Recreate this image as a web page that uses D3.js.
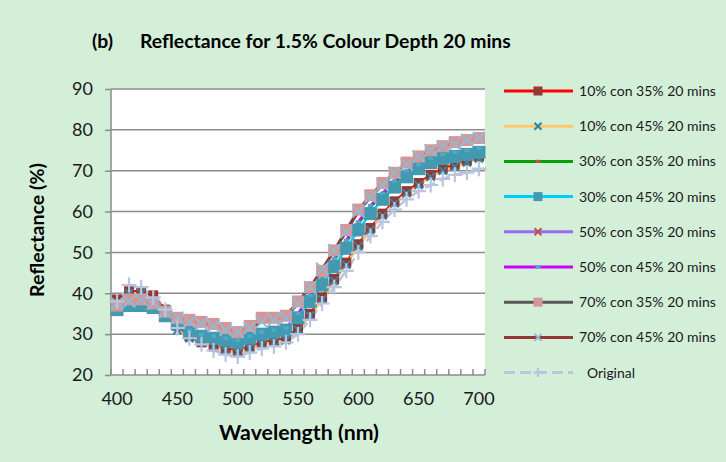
<!DOCTYPE html>
<html>
<head>
<meta charset="utf-8">
<script src="https://cdn.jsdelivr.net/npm/d3@7"></script>
<style>
  body { margin: 0; background: #d3efd8; }
  svg { display: block; font-family: Lato, "Open Sans", sans-serif; }
</style>
</head>
<body>
<div id="chart"></div>
<script>
// wavelengths (nm) - category axis
var wavelengths = [400, 410, 420, 430, 440, 450, 460, 470, 480, 490, 500, 510, 520, 530, 540, 550,
  560, 570, 580, 590, 600, 610, 620, 630, 640, 650, 660, 670, 680, 690, 700];
var xLabels = [400, 450, 500, 550, 600, 650, 700];
var yTicks = [20, 30, 40, 50, 60, 70, 80, 90];

var names = ["10% con 35% 20 mins", "10% con 45% 20 mins", "30% con 35% 20 mins", "30% con 45% 20 mins",
  "50% con 35% 20 mins", "50% con 45% 20 mins", "70% con 35% 20 mins", "70% con 45% 20 mins", "Original"];

// reflectance (%)
var con10_35 = [38.5, 40.5, 40.5, 39.5, 36, 32, 29.5, 28, 27, 26.5, 26, 27, 28, 28.5, 29, 31.5, 35, 39, 43.5, 47.5, 52, 56, 59.5, 62.5, 65, 67, 69, 70.5, 71.5, 72.5, 73.5];
var con10_45 = [37, 40, 40, 38, 35, 31, 29, 28, 27, 26, 25.5, 26.5, 27.5, 28, 28.5, 31, 34.5, 38.5, 43, 47, 51.5, 55.5, 59, 62, 64.5, 66.5, 68.5, 70, 71, 72, 73];
var con30_35 = [36, 37, 37.5, 36.5, 34.5, 32.5, 30.5, 29.5, 29, 28.5, 28, 29, 30, 30.5, 31, 34.5, 39, 43.5, 48, 52.5, 57, 61, 64, 67, 69.5, 71, 72.5, 73.5, 74, 74.5, 75];
var con30_45 = [36, 37, 37, 36.5, 34.5, 32.5, 30.5, 29.5, 29, 28.5, 28, 29, 30, 30.5, 31, 34, 38, 42, 46.5, 51, 55.5, 59.5, 63, 66, 68.5, 70.5, 72, 73, 73.5, 74, 74.5];
var con50_35 = [37, 38.5, 38.5, 37.5, 35.5, 34, 33.5, 33, 32.5, 31.5, 30.5, 32, 33.5, 34, 34.5, 38, 41.5, 45.5, 50.5, 55.5, 60, 63.5, 66.5, 69.5, 72, 73.5, 74.5, 75.5, 76.5, 77, 77.5];
var con50_45 = [36.5, 37.5, 37.5, 37, 35, 33, 31, 30, 29.5, 29, 28.5, 29.5, 30.5, 31, 31.5, 35, 39.5, 44, 48.5, 53, 57.5, 61.5, 64.5, 67.5, 70, 71.5, 73, 74, 74.5, 75, 75.5];
var con70_35 = [37, 38.5, 38.5, 37.5, 35.5, 34, 33.5, 33, 32.5, 31.5, 30.5, 32, 34, 34, 34.5, 38, 41.5, 45.5, 50.5, 55.5, 60.5, 64, 67, 69.5, 72, 73.5, 75, 76, 77, 77.5, 78];
var con70_45 = [37.5, 38, 38.5, 37.5, 35.5, 34, 33, 32.5, 32, 31, 30.5, 31.5, 33, 33.5, 34, 37.5, 41.5, 46, 50.5, 55, 60, 63.5, 66.5, 69.5, 71.5, 73.5, 75, 76, 76.5, 77.5, 78];
var original = [38, 42, 41.5, 39, 36, 31.5, 29, 27.5, 26, 25, 24.5, 25.5, 26.5, 27, 28, 30, 33.5, 37.5, 41.5, 45.5, 50, 54, 57.5, 60.5, 63, 65, 66.5, 68, 69, 69.5, 70.5];

var seriesValues = [con10_35, con10_45, con30_35, con30_45, con50_35, con50_45, con70_35, con70_45, original];

// look of each series: line colour, marker kind, marker colour, marker size (plot / legend)
var styles = [
  { line: "#ff0000", mark: "square", fill: "#953735", size: 10, lsize: 9 },
  { line: "#ffc76e", mark: "x", fill: "#31859c", size: 8, lsize: 7 },
  { line: "#00a000", mark: "bar", fill: "#c0504d", size: 5, lsize: 5 },
  { line: "#00ccff", mark: "square", fill: "#4399b0", size: 13, lsize: 9 },
  { line: "#9a6af0", mark: "x", fill: "#c0504d", size: 7, lsize: 7 },
  { line: "#cc00ff", mark: "bar", fill: "#4bacc6", size: 5, lsize: 5 },
  { line: "#595959", mark: "square", fill: "#d79694", size: 12, lsize: 9 },
  { line: "#943634", mark: "x", fill: "#93b8d3", size: 12, lsize: 7 },
  { line: "#b9c4df", mark: "plus", fill: "#b9c4df", size: 15, lsize: 9, dash: "11,5" }
];

var W = 726, H = 462;
var plot = { left: 111, right: 485, top: 89, bottom: 375 };

var svg = d3.select("#chart").append("svg")
  .attr("width", W)
  .attr("height", H);

svg.append("rect").attr("width", W).attr("height", H).attr("fill", "#d3efd8");
svg.append("rect")
  .attr("x", plot.left).attr("y", plot.top)
  .attr("width", plot.right - plot.left).attr("height", plot.bottom - plot.top)
  .attr("fill", "#ffffff");

var x = d3.scaleBand().domain(wavelengths).range([plot.left, plot.right]).padding(0);
var y = d3.scaleLinear().domain([20, 90]).range([plot.bottom, plot.top]);
var cx = function (d) { return x(d) + x.bandwidth() / 2; };

// y axis ticks and labels
var yAxis = svg.append("g")
  .attr("transform", "translate(" + plot.left + ",0)")
  .call(d3.axisLeft(y).tickValues(yTicks).tickSize(6).tickPadding(12));
yAxis.select(".domain").remove();
yAxis.selectAll(".tick line").attr("stroke", "#8c8c8c").attr("stroke-width", 1.5);
yAxis.selectAll(".tick text").attr("fill", "#1a1a1a").style("font-size", "18px").style("font-family", "Lato, sans-serif");

// gridlines
svg.append("g").selectAll("line")
  .data(yTicks.slice(1))
  .enter().append("line")
  .attr("x1", plot.left).attr("x2", plot.right)
  .attr("y1", function (d) { return y(d); }).attr("y2", function (d) { return y(d); })
  .attr("stroke", "#8c8c8c").attr("stroke-width", 1.5);

// x axis: labels on every 5th category, ticks between categories
var xAxis = svg.append("g")
  .attr("transform", "translate(0," + plot.bottom + ")")
  .call(d3.axisBottom(x).tickValues(xLabels).tickSize(0).tickPadding(17));
xAxis.select(".domain").remove();
xAxis.selectAll(".tick text").attr("fill", "#1a1a1a").style("font-size", "18px").style("font-family", "Lato, sans-serif");

var bounds = wavelengths.map(function (d) { return x(d); }).concat([plot.right]);
svg.append("g").selectAll("line")
  .data(bounds)
  .enter().append("line")
  .attr("x1", function (d) { return d; }).attr("x2", function (d) { return d; })
  .attr("y1", plot.bottom).attr("y2", plot.bottom - 6)
  .attr("stroke", "#8c8c8c").attr("stroke-width", 1.5);

svg.append("line")
  .attr("x1", plot.left).attr("x2", plot.right)
  .attr("y1", plot.bottom).attr("y2", plot.bottom)
  .attr("stroke", "#8c8c8c").attr("stroke-width", 1.5);
svg.append("line")
  .attr("x1", plot.left).attr("x2", plot.left)
  .attr("y1", plot.top).attr("y2", plot.bottom)
  .attr("stroke", "#8c8c8c").attr("stroke-width", 1.5);

// marker drawing
function drawMarker(g, st, size) {
  var h = size / 2;
  if (st.mark === "square") {
    g.append("rect").attr("x", -h).attr("y", -h).attr("width", size).attr("height", size)
      .attr("fill", st.fill);
  } else if (st.mark === "bar") {
    g.append("rect").attr("x", -h).attr("y", -1.6).attr("width", size).attr("height", 3.2)
      .attr("fill", st.fill);
  } else if (st.mark === "x") {
    g.append("path").attr("d", "M" + (-h) + "," + (-h) + "L" + h + "," + h + "M" + (-h) + "," + h + "L" + h + "," + (-h))
      .attr("stroke", st.fill).attr("stroke-width", 2).attr("fill", "none");
  } else if (st.mark === "plus") {
    g.append("path").attr("d", "M" + (-h) + ",0L" + h + ",0M0," + (-h) + "L0," + h)
      .attr("stroke", st.fill).attr("stroke-width", 2.2).attr("fill", "none");
  }
}

var line = d3.line()
  .x(function (d) { return cx(d[0]); })
  .y(function (d) { return y(d[1]); });

var seriesPts = seriesValues.map(function (vals) {
  return wavelengths.map(function (w, j) { return [w, vals[j]]; });
});

// all lines first, then all markers on top
var linesG = svg.append("g");
seriesPts.forEach(function (pts, i) {
  linesG.append("path")
    .datum(pts)
    .attr("d", line)
    .attr("fill", "none")
    .attr("stroke", styles[i].line)
    .attr("stroke-width", 2.5)
    .attr("stroke-dasharray", styles[i].dash || null);
});
seriesPts.forEach(function (pts, i) {
  var st = styles[i];
  svg.append("g").selectAll("g")
    .data(pts)
    .enter().append("g")
    .attr("transform", function (d) { return "translate(" + cx(d[0]) + "," + y(d[1]) + ")"; })
    .each(function () { drawMarker(d3.select(this), st, st.size); });
});

// stretch a text to a measured width
function fit(sel, w) {
  var cur = sel.node().getComputedTextLength();
  var fs = parseFloat(sel.style("font-size"));
  sel.style("font-size", (fs * w / cur) + "px");
  return fs * w / cur;
}

// legend
var legend = svg.append("g");
names.forEach(function (name, i) {
  var st = styles[i];
  var ly = 91 + i * 35.2;
  legend.append("line")
    .attr("x1", 504).attr("x2", 573).attr("y1", ly).attr("y2", ly)
    .attr("stroke", st.line).attr("stroke-width", 3)
    .attr("stroke-dasharray", st.dash || null);
  var mg = legend.append("g").attr("transform", "translate(538," + ly + ")");
  drawMarker(mg, st, st.lsize);
  var t = legend.append("text")
    .attr("x", i === 8 ? 587 : 579).attr("y", ly + 5)
    .style("font-size", "14px")
    .attr("fill", "#1a1a1a")
    .text(name);
  fit(t, i === 8 ? 48 : 137);
});

// titles
var title = svg.append("text").attr("x", 140).attr("y", 48)
  .style("font-size", "16px").style("font-weight", "bold")
  .text("Reflectance for 1.5% Colour Depth 20 mins");
var titleSize = fit(title, 371);
svg.append("text").attr("x", 92).attr("y", 48)
  .style("font-size", titleSize + "px").style("font-weight", "bold")
  .text("(b)");

var xt = svg.append("text").attr("x", 299).attr("y", 440)
  .attr("text-anchor", "middle")
  .style("font-size", "18px").style("font-weight", "bold")
  .text("Wavelength (nm)");
fit(xt, 160);

var yt = svg.append("text")
  .attr("transform", "translate(44,230)rotate(-90)")
  .attr("text-anchor", "middle")
  .style("font-size", "17px").style("font-weight", "bold")
  .text("Reflectance (%)");
fit(yt, 134);
</script>
</body>
</html>
